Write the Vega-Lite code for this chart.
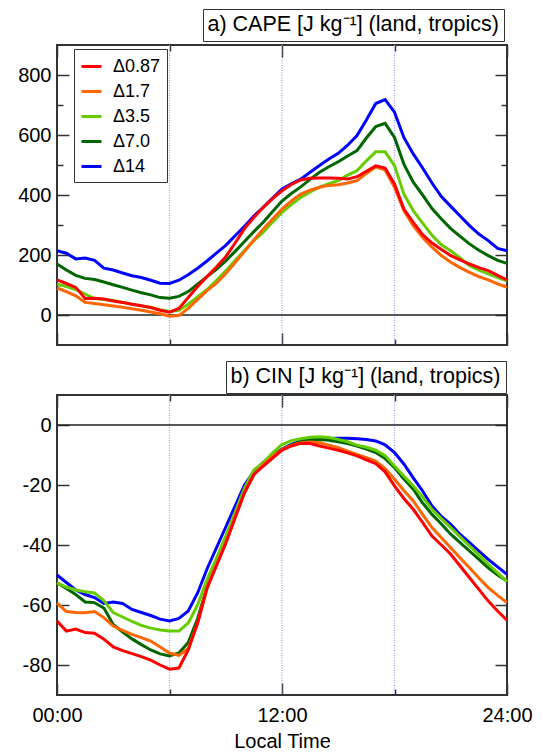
{
  "$schema": "https://vega.github.io/schema/vega-lite/v6.json",
  "padding": {"left": 16, "top": 7, "right": 35, "bottom": 0},
  "bounds": "flush",
  "spacing": 50,
  "datasets": {
    "vt": [{"h": 6}, {"h": 12}, {"h": 18}],
    "zero": [{"v": 0}],
    "d": [
      {"h":0,"s":"Δ14","cape":214,"cin":-50},{"h":0.5,"s":"Δ14","cape":206,"cin":-52.5},{"h":1,"s":"Δ14","cape":187,"cin":-55},{"h":1.5,"s":"Δ14","cape":190,"cin":-56.5},{"h":2,"s":"Δ14","cape":182,"cin":-57.5},{"h":2.5,"s":"Δ14","cape":156,"cin":-59.5},{"h":3,"s":"Δ14","cape":150,"cin":-59},{"h":3.5,"s":"Δ14","cape":140,"cin":-59.5},{"h":4,"s":"Δ14","cape":131,"cin":-61.5},{"h":4.5,"s":"Δ14","cape":125,"cin":-62.5},{"h":5,"s":"Δ14","cape":116,"cin":-63.5},{"h":5.5,"s":"Δ14","cape":106,"cin":-64.7},{"h":6,"s":"Δ14","cape":105,"cin":-65.3},{"h":6.5,"s":"Δ14","cape":116,"cin":-64.5},{"h":7,"s":"Δ14","cape":134,"cin":-62},{"h":7.5,"s":"Δ14","cape":156,"cin":-56},{"h":8,"s":"Δ14","cape":180,"cin":-48},{"h":8.5,"s":"Δ14","cape":206,"cin":-41},{"h":9,"s":"Δ14","cape":232,"cin":-34},{"h":9.5,"s":"Δ14","cape":264,"cin":-27},{"h":10,"s":"Δ14","cape":296,"cin":-20},{"h":10.5,"s":"Δ14","cape":330,"cin":-15.5},{"h":11,"s":"Δ14","cape":359,"cin":-12.5},{"h":11.5,"s":"Δ14","cape":390,"cin":-10},{"h":12,"s":"Δ14","cape":420,"cin":-8},{"h":12.5,"s":"Δ14","cape":437,"cin":-6.5},{"h":13,"s":"Δ14","cape":453,"cin":-5.3},{"h":13.5,"s":"Δ14","cape":476,"cin":-5},{"h":14,"s":"Δ14","cape":498,"cin":-4.8},{"h":14.5,"s":"Δ14","cape":520,"cin":-4.5},{"h":15,"s":"Δ14","cape":539,"cin":-4.4},{"h":15.5,"s":"Δ14","cape":566,"cin":-4.4},{"h":16,"s":"Δ14","cape":598,"cin":-4.6},{"h":16.5,"s":"Δ14","cape":650,"cin":-4.8},{"h":17,"s":"Δ14","cape":705,"cin":-5.3},{"h":17.5,"s":"Δ14","cape":718,"cin":-6.6},{"h":18,"s":"Δ14","cape":676,"cin":-9.2},{"h":18.5,"s":"Δ14","cape":592,"cin":-13},{"h":19,"s":"Δ14","cape":537,"cin":-17.6},{"h":19.5,"s":"Δ14","cape":490,"cin":-22},{"h":20,"s":"Δ14","cape":440,"cin":-27},{"h":20.5,"s":"Δ14","cape":395,"cin":-30.5},{"h":21,"s":"Δ14","cape":362,"cin":-33.1},{"h":21.5,"s":"Δ14","cape":330,"cin":-36.5},{"h":22,"s":"Δ14","cape":298,"cin":-39.2},{"h":22.5,"s":"Δ14","cape":270,"cin":-42},{"h":23,"s":"Δ14","cape":248,"cin":-44.8},{"h":23.5,"s":"Δ14","cape":222,"cin":-47.3},{"h":24,"s":"Δ14","cape":214,"cin":-49.8},
      {"h":0,"s":"Δ7.0","cape":170,"cin":-52.6},{"h":0.5,"s":"Δ7.0","cape":150,"cin":-54.5},{"h":1,"s":"Δ7.0","cape":132,"cin":-56.5},{"h":1.5,"s":"Δ7.0","cape":122,"cin":-59},{"h":2,"s":"Δ7.0","cape":118,"cin":-59.2},{"h":2.5,"s":"Δ7.0","cape":110,"cin":-61},{"h":3,"s":"Δ7.0","cape":101,"cin":-66.5},{"h":3.5,"s":"Δ7.0","cape":92,"cin":-69},{"h":4,"s":"Δ7.0","cape":83,"cin":-71.3},{"h":4.5,"s":"Δ7.0","cape":74,"cin":-73.2},{"h":5,"s":"Δ7.0","cape":67,"cin":-75},{"h":5.5,"s":"Δ7.0","cape":58,"cin":-76.3},{"h":6,"s":"Δ7.0","cape":56,"cin":-77},{"h":6.5,"s":"Δ7.0","cape":62,"cin":-76},{"h":7,"s":"Δ7.0","cape":78,"cin":-72.5},{"h":7.5,"s":"Δ7.0","cape":103,"cin":-64.5},{"h":8,"s":"Δ7.0","cape":128,"cin":-54},{"h":8.5,"s":"Δ7.0","cape":152,"cin":-45},{"h":9,"s":"Δ7.0","cape":180,"cin":-37.5},{"h":9.5,"s":"Δ7.0","cape":212,"cin":-30},{"h":10,"s":"Δ7.0","cape":245,"cin":-22.5},{"h":10.5,"s":"Δ7.0","cape":278,"cin":-16.5},{"h":11,"s":"Δ7.0","cape":309,"cin":-12.8},{"h":11.5,"s":"Δ7.0","cape":345,"cin":-10.3},{"h":12,"s":"Δ7.0","cape":380,"cin":-8.2},{"h":12.5,"s":"Δ7.0","cape":405,"cin":-6.6},{"h":13,"s":"Δ7.0","cape":427,"cin":-5.6},{"h":13.5,"s":"Δ7.0","cape":452,"cin":-5},{"h":14,"s":"Δ7.0","cape":476,"cin":-4.8},{"h":14.5,"s":"Δ7.0","cape":494,"cin":-5.1},{"h":15,"s":"Δ7.0","cape":511,"cin":-5.6},{"h":15.5,"s":"Δ7.0","cape":530,"cin":-6.2},{"h":16,"s":"Δ7.0","cape":548,"cin":-7},{"h":16.5,"s":"Δ7.0","cape":590,"cin":-8},{"h":17,"s":"Δ7.0","cape":628,"cin":-9.2},{"h":17.5,"s":"Δ7.0","cape":639,"cin":-11.2},{"h":18,"s":"Δ7.0","cape":592,"cin":-14.2},{"h":18.5,"s":"Δ7.0","cape":503,"cin":-18},{"h":19,"s":"Δ7.0","cape":443,"cin":-21.4},{"h":19.5,"s":"Δ7.0","cape":400,"cin":-26},{"h":20,"s":"Δ7.0","cape":355,"cin":-29.8},{"h":20.5,"s":"Δ7.0","cape":320,"cin":-33},{"h":21,"s":"Δ7.0","cape":288,"cin":-36.4},{"h":21.5,"s":"Δ7.0","cape":262,"cin":-39.2},{"h":22,"s":"Δ7.0","cape":237,"cin":-42},{"h":22.5,"s":"Δ7.0","cape":216,"cin":-44.8},{"h":23,"s":"Δ7.0","cape":198,"cin":-47.6},{"h":23.5,"s":"Δ7.0","cape":182,"cin":-50},{"h":24,"s":"Δ7.0","cape":172,"cin":-52},
      {"h":0,"s":"Δ3.5","cape":103,"cin":-52.6},{"h":0.5,"s":"Δ3.5","cape":95,"cin":-54},{"h":1,"s":"Δ3.5","cape":85,"cin":-55},{"h":1.5,"s":"Δ3.5","cape":70,"cin":-55.6},{"h":2,"s":"Δ3.5","cape":55,"cin":-56},{"h":2.5,"s":"Δ3.5","cape":52,"cin":-58.5},{"h":3,"s":"Δ3.5","cape":48,"cin":-62.5},{"h":3.5,"s":"Δ3.5","cape":42,"cin":-64},{"h":4,"s":"Δ3.5","cape":36,"cin":-65.5},{"h":4.5,"s":"Δ3.5","cape":31,"cin":-66.8},{"h":5,"s":"Δ3.5","cape":25,"cin":-67.7},{"h":5.5,"s":"Δ3.5","cape":18,"cin":-68.3},{"h":6,"s":"Δ3.5","cape":12,"cin":-68.7},{"h":6.5,"s":"Δ3.5","cape":16,"cin":-68.7},{"h":7,"s":"Δ3.5","cape":36,"cin":-66},{"h":7.5,"s":"Δ3.5","cape":60,"cin":-60},{"h":8,"s":"Δ3.5","cape":85,"cin":-51.5},{"h":8.5,"s":"Δ3.5","cape":115,"cin":-44.5},{"h":9,"s":"Δ3.5","cape":147,"cin":-37},{"h":9.5,"s":"Δ3.5","cape":182,"cin":-29},{"h":10,"s":"Δ3.5","cape":215,"cin":-21},{"h":10.5,"s":"Δ3.5","cape":248,"cin":-15},{"h":11,"s":"Δ3.5","cape":276,"cin":-12.6},{"h":11.5,"s":"Δ3.5","cape":310,"cin":-9.3},{"h":12,"s":"Δ3.5","cape":342,"cin":-6.5},{"h":12.5,"s":"Δ3.5","cape":368,"cin":-5.2},{"h":13,"s":"Δ3.5","cape":392,"cin":-4.6},{"h":13.5,"s":"Δ3.5","cape":410,"cin":-4.1},{"h":14,"s":"Δ3.5","cape":426,"cin":-3.9},{"h":14.5,"s":"Δ3.5","cape":438,"cin":-4.2},{"h":15,"s":"Δ3.5","cape":448,"cin":-4.8},{"h":15.5,"s":"Δ3.5","cape":466,"cin":-5.6},{"h":16,"s":"Δ3.5","cape":481,"cin":-6.7},{"h":16.5,"s":"Δ3.5","cape":514,"cin":-7.4},{"h":17,"s":"Δ3.5","cape":544,"cin":-8.4},{"h":17.5,"s":"Δ3.5","cape":544,"cin":-10.2},{"h":18,"s":"Δ3.5","cape":498,"cin":-13.7},{"h":18.5,"s":"Δ3.5","cape":403,"cin":-17},{"h":19,"s":"Δ3.5","cape":348,"cin":-20.3},{"h":19.5,"s":"Δ3.5","cape":306,"cin":-24},{"h":20,"s":"Δ3.5","cape":266,"cin":-28.1},{"h":20.5,"s":"Δ3.5","cape":234,"cin":-31.2},{"h":21,"s":"Δ3.5","cape":214,"cin":-34.2},{"h":21.5,"s":"Δ3.5","cape":190,"cin":-37.3},{"h":22,"s":"Δ3.5","cape":164,"cin":-40.3},{"h":22.5,"s":"Δ3.5","cape":150,"cin":-43.3},{"h":23,"s":"Δ3.5","cape":137,"cin":-46.4},{"h":23.5,"s":"Δ3.5","cape":125,"cin":-49.3},{"h":24,"s":"Δ3.5","cape":114,"cin":-52.2},
      {"h":0,"s":"Δ1.7","cape":90,"cin":-59.4},{"h":0.5,"s":"Δ1.7","cape":78,"cin":-62.2},{"h":1,"s":"Δ1.7","cape":64,"cin":-62.5},{"h":1.5,"s":"Δ1.7","cape":42,"cin":-62.6},{"h":2,"s":"Δ1.7","cape":38,"cin":-62.2},{"h":2.5,"s":"Δ1.7","cape":34,"cin":-64.2},{"h":3,"s":"Δ1.7","cape":30,"cin":-67},{"h":3.5,"s":"Δ1.7","cape":26,"cin":-68.5},{"h":4,"s":"Δ1.7","cape":21,"cin":-69.8},{"h":4.5,"s":"Δ1.7","cape":16,"cin":-70.9},{"h":5,"s":"Δ1.7","cape":10,"cin":-72},{"h":5.5,"s":"Δ1.7","cape":4,"cin":-74},{"h":6,"s":"Δ1.7","cape":-4,"cin":-76},{"h":6.5,"s":"Δ1.7","cape":-2,"cin":-76.8},{"h":7,"s":"Δ1.7","cape":22,"cin":-74.5},{"h":7.5,"s":"Δ1.7","cape":52,"cin":-66},{"h":8,"s":"Δ1.7","cape":81,"cin":-54},{"h":8.5,"s":"Δ1.7","cape":106,"cin":-46.5},{"h":9,"s":"Δ1.7","cape":138,"cin":-39},{"h":9.5,"s":"Δ1.7","cape":175,"cin":-30.5},{"h":10,"s":"Δ1.7","cape":212,"cin":-22.5},{"h":10.5,"s":"Δ1.7","cape":250,"cin":-16.5},{"h":11,"s":"Δ1.7","cape":287,"cin":-13.2},{"h":11.5,"s":"Δ1.7","cape":320,"cin":-10.5},{"h":12,"s":"Δ1.7","cape":353,"cin":-8.2},{"h":12.5,"s":"Δ1.7","cape":380,"cin":-6.8},{"h":13,"s":"Δ1.7","cape":403,"cin":-5.9},{"h":13.5,"s":"Δ1.7","cape":416,"cin":-5.7},{"h":14,"s":"Δ1.7","cape":426,"cin":-5.9},{"h":14.5,"s":"Δ1.7","cape":432,"cin":-6.7},{"h":15,"s":"Δ1.7","cape":434,"cin":-7.6},{"h":15.5,"s":"Δ1.7","cape":440,"cin":-8.7},{"h":16,"s":"Δ1.7","cape":448,"cin":-9.8},{"h":16.5,"s":"Δ1.7","cape":472,"cin":-10.9},{"h":17,"s":"Δ1.7","cape":494,"cin":-12},{"h":17.5,"s":"Δ1.7","cape":483,"cin":-14.5},{"h":18,"s":"Δ1.7","cape":426,"cin":-18.1},{"h":18.5,"s":"Δ1.7","cape":348,"cin":-21.8},{"h":19,"s":"Δ1.7","cape":298,"cin":-25.3},{"h":19.5,"s":"Δ1.7","cape":258,"cin":-29.8},{"h":20,"s":"Δ1.7","cape":226,"cin":-34.2},{"h":20.5,"s":"Δ1.7","cape":198,"cin":-37.6},{"h":21,"s":"Δ1.7","cape":176,"cin":-40.9},{"h":21.5,"s":"Δ1.7","cape":158,"cin":-44.3},{"h":22,"s":"Δ1.7","cape":142,"cin":-47.6},{"h":22.5,"s":"Δ1.7","cape":128,"cin":-51},{"h":23,"s":"Δ1.7","cape":117,"cin":-54.2},{"h":23.5,"s":"Δ1.7","cape":104,"cin":-56.8},{"h":24,"s":"Δ1.7","cape":92,"cin":-59.2},
      {"h":0,"s":"Δ0.87","cape":117,"cin":-65.3},{"h":0.5,"s":"Δ0.87","cape":105,"cin":-68.7},{"h":1,"s":"Δ0.87","cape":92,"cin":-68},{"h":1.5,"s":"Δ0.87","cape":55,"cin":-69.2},{"h":2,"s":"Δ0.87","cape":56,"cin":-69.4},{"h":2.5,"s":"Δ0.87","cape":53,"cin":-71.4},{"h":3,"s":"Δ0.87","cape":47,"cin":-74},{"h":3.5,"s":"Δ0.87","cape":42,"cin":-75.2},{"h":4,"s":"Δ0.87","cape":36,"cin":-76.2},{"h":4.5,"s":"Δ0.87","cape":31,"cin":-77.2},{"h":5,"s":"Δ0.87","cape":25,"cin":-78.4},{"h":5.5,"s":"Δ0.87","cape":16,"cin":-80},{"h":6,"s":"Δ0.87","cape":9,"cin":-81.4},{"h":6.5,"s":"Δ0.87","cape":22,"cin":-81},{"h":7,"s":"Δ0.87","cape":58,"cin":-75},{"h":7.5,"s":"Δ0.87","cape":95,"cin":-66},{"h":8,"s":"Δ0.87","cape":128,"cin":-54.5},{"h":8.5,"s":"Δ0.87","cape":160,"cin":-47},{"h":9,"s":"Δ0.87","cape":194,"cin":-39.5},{"h":9.5,"s":"Δ0.87","cape":240,"cin":-31},{"h":10,"s":"Δ0.87","cape":288,"cin":-22.5},{"h":10.5,"s":"Δ0.87","cape":325,"cin":-16.5},{"h":11,"s":"Δ0.87","cape":359,"cin":-13.7},{"h":11.5,"s":"Δ0.87","cape":388,"cin":-11},{"h":12,"s":"Δ0.87","cape":414,"cin":-8.4},{"h":12.5,"s":"Δ0.87","cape":435,"cin":-7},{"h":13,"s":"Δ0.87","cape":450,"cin":-6.1},{"h":13.5,"s":"Δ0.87","cape":456,"cin":-6.2},{"h":14,"s":"Δ0.87","cape":457,"cin":-7},{"h":14.5,"s":"Δ0.87","cape":457,"cin":-7.7},{"h":15,"s":"Δ0.87","cape":456,"cin":-8.4},{"h":15.5,"s":"Δ0.87","cape":453,"cin":-9.3},{"h":16,"s":"Δ0.87","cape":461,"cin":-10.3},{"h":16.5,"s":"Δ0.87","cape":479,"cin":-11.6},{"h":17,"s":"Δ0.87","cape":497,"cin":-12.9},{"h":17.5,"s":"Δ0.87","cape":490,"cin":-15.6},{"h":18,"s":"Δ0.87","cape":437,"cin":-20.3},{"h":18.5,"s":"Δ0.87","cape":353,"cin":-24.5},{"h":19,"s":"Δ0.87","cape":309,"cin":-28.1},{"h":19.5,"s":"Δ0.87","cape":268,"cin":-32.5},{"h":20,"s":"Δ0.87","cape":240,"cin":-37},{"h":20.5,"s":"Δ0.87","cape":218,"cin":-40},{"h":21,"s":"Δ0.87","cape":198,"cin":-43.1},{"h":21.5,"s":"Δ0.87","cape":184,"cin":-47},{"h":22,"s":"Δ0.87","cape":170,"cin":-50.9},{"h":22.5,"s":"Δ0.87","cape":158,"cin":-54.8},{"h":23,"s":"Δ0.87","cape":148,"cin":-58.7},{"h":23.5,"s":"Δ0.87","cape":132,"cin":-62},{"h":24,"s":"Δ0.87","cape":117,"cin":-65.1}
    ]
  },
  "vconcat": [
    {
      "width": 450,
      "height": 300,
      "data": {"name": "d"},
      "layer": [
        {
          "data": {"name": "vt"},
          "mark": {"type": "rule", "color": "#9a9aff", "strokeWidth": 1.2, "strokeDash": [1, 1.5]},
          "encoding": {
            "x": {"field": "h", "type": "quantitative", "scale": {"domain": [0, 24], "nice": false}, "axis": null}
          }
        },
        {
          "data": {"name": "zero"},
          "mark": {"type": "rule", "color": "#222222", "strokeWidth": 1.5},
          "encoding": {
            "y": {"field": "v", "type": "quantitative", "scale": {"domain": [-100, 900], "nice": false, "zero": false}, "axis": null},
            "strokeDash": {
              "datum": "a) CAPE [J kg⁻¹] (land, tropics)", "type": "nominal",
              "legend": {"orient": "none", "legendX": 146, "legendY": -36, "title": null, "strokeColor": "#333333", "fillColor": "#ffffff",
                         "padding": 5, "labelFontSize": 21.5, "labelLimit": 500, "symbolType": "circle", "symbolSize": 0.01, "symbolOpacity": 0, "symbolStrokeWidth": 0,
                         "labelOffset": -22}
            }
          }
        },
        {
          "mark": {"type": "point", "opacity": 0},
          "encoding": {
            "x": {"field": "h", "type": "quantitative", "scale": {"domain": [0, 24], "nice": false},
                  "axis": {"orient": "top", "values": [0, 12, 24], "tickSize": -12, "labels": false, "title": null}},
            "y": {"field": "cape", "type": "quantitative", "scale": {"domain": [-100, 900], "nice": false, "zero": false},
                  "axis": {"orient": "right", "values": [0, 200, 400, 600, 800], "tickSize": -12, "labels": false, "title": null}}
          }
        },
        {
          "mark": {"type": "point", "opacity": 0},
          "encoding": {
            "x": {"field": "h", "type": "quantitative", "scale": {"domain": [0, 24], "nice": false},
                  "axis": {"orient": "top", "values": [6, 18], "tickSize": -6, "labels": false, "title": null}},
            "y": {"field": "cape", "type": "quantitative", "scale": {"domain": [-100, 900], "nice": false, "zero": false},
                  "axis": {"orient": "right", "values": [100, 300, 500, 700], "tickSize": -6, "labels": false, "title": null}}
          }
        },
        {
          "mark": {"type": "point", "opacity": 0},
          "encoding": {
            "x": {"field": "h", "type": "quantitative", "scale": {"domain": [0, 24], "nice": false},
                  "axis": {"orient": "bottom", "values": [6, 18], "tickSize": -6, "labels": false, "title": null}},
            "y": {"field": "cape", "type": "quantitative", "scale": {"domain": [-100, 900], "nice": false, "zero": false},
                  "axis": {"orient": "left", "values": [100, 300, 500, 700], "tickSize": -6, "labels": false, "title": null}}
          }
        },
        {
          "mark": {"type": "line", "strokeWidth": 3},
          "encoding": {
            "x": {"field": "h", "type": "quantitative", "scale": {"domain": [0, 24], "nice": false},
                  "axis": {"orient": "bottom", "values": [0, 12, 24], "tickSize": -12, "labels": false, "title": null}},
            "y": {"field": "cape", "type": "quantitative", "scale": {"domain": [-100, 900], "nice": false, "zero": false},
                  "axis": {"orient": "left", "values": [0, 200, 400, 600, 800], "tickSize": -12, "labelPadding": 18, "title": null}},
            "color": {
              "field": "s", "type": "nominal",
              "scale": {"domain": ["Δ0.87", "Δ1.7", "Δ3.5", "Δ7.0", "Δ14"], "range": ["#ff0000", "#ff6600", "#66cc00", "#006600", "#0000ff"]},
              "legend": {"orient": "none", "legendX": 17, "legendY": 4, "title": null, "strokeColor": "#333333", "fillColor": "#ffffff",
                         "padding": 6, "labelFontSize": 18, "symbolType": "stroke", "symbolSize": 400, "symbolStrokeWidth": 3,
                         "labelOffset": 10, "rowPadding": 4}
            }
          }
        }
      ],
      "resolve": {"axis": {"x": "independent", "y": "independent"}}
    },
    {
      "width": 450,
      "height": 300,
      "data": {"name": "d"},
      "layer": [
        {
          "data": {"name": "vt"},
          "mark": {"type": "rule", "color": "#9a9aff", "strokeWidth": 1.2, "strokeDash": [1, 1.5]},
          "encoding": {
            "x": {"field": "h", "type": "quantitative", "scale": {"domain": [0, 24], "nice": false}, "axis": null}
          }
        },
        {
          "data": {"name": "zero"},
          "mark": {"type": "rule", "color": "#222222", "strokeWidth": 1.5},
          "encoding": {
            "y": {"field": "v", "type": "quantitative", "scale": {"domain": [-90, 10], "nice": false, "zero": false}, "axis": null},
            "strokeDash": {
              "datum": "b) CIN [J kg⁻¹] (land, tropics)", "type": "nominal",
              "legend": {"orient": "none", "legendX": 169, "legendY": -34, "title": null, "strokeColor": "#333333", "fillColor": "#ffffff",
                         "padding": 5, "labelFontSize": 21.5, "labelLimit": 500, "symbolType": "circle", "symbolSize": 0.01, "symbolOpacity": 0, "symbolStrokeWidth": 0,
                         "labelOffset": -22}
            }
          }
        },
        {
          "mark": {"type": "point", "opacity": 0},
          "encoding": {
            "x": {"field": "h", "type": "quantitative", "scale": {"domain": [0, 24], "nice": false},
                  "axis": {"orient": "top", "values": [0, 12, 24], "tickSize": -12, "labels": false, "title": null}},
            "y": {"field": "cin", "type": "quantitative", "scale": {"domain": [-90, 10], "nice": false, "zero": false},
                  "axis": {"orient": "right", "values": [-80, -60, -40, -20, 0], "tickSize": -12, "labels": false, "title": null}}
          }
        },
        {
          "mark": {"type": "point", "opacity": 0},
          "encoding": {
            "x": {"field": "h", "type": "quantitative", "scale": {"domain": [0, 24], "nice": false},
                  "axis": {"orient": "top", "values": [6, 18], "tickSize": -6, "labels": false, "title": null}},
            "y": {"field": "cin", "type": "quantitative", "scale": {"domain": [-90, 10], "nice": false, "zero": false}, "axis": null}
          }
        },
        {
          "mark": {"type": "point", "opacity": 0},
          "encoding": {
            "x": {"field": "h", "type": "quantitative", "scale": {"domain": [0, 24], "nice": false},
                  "axis": {"orient": "bottom", "values": [6, 18], "tickSize": -6, "labels": false, "title": null}},
            "y": {"field": "cin", "type": "quantitative", "scale": {"domain": [-90, 10], "nice": false, "zero": false}, "axis": null}
          }
        },
        {
          "mark": {"type": "line", "strokeWidth": 3},
          "encoding": {
            "x": {"field": "h", "type": "quantitative", "scale": {"domain": [0, 24], "nice": false},
                  "axis": {"orient": "bottom", "values": [0, 12, 24], "tickSize": -12, "labelPadding": 22, "labelFlush": false,
                           "labelExpr": "datum.value == 0 ? '00:00' : datum.value + ':00'", "title": "Local Time", "titlePadding": 6}},
            "y": {"field": "cin", "type": "quantitative", "scale": {"domain": [-90, 10], "nice": false, "zero": false},
                  "axis": {"orient": "left", "values": [-80, -60, -40, -20, 0], "tickSize": -12, "labelPadding": 18, "labelExpr": "'' + datum.value", "title": null}},
            "color": {
              "field": "s", "type": "nominal",
              "scale": {"domain": ["Δ0.87", "Δ1.7", "Δ3.5", "Δ7.0", "Δ14"], "range": ["#ff0000", "#ff6600", "#66cc00", "#006600", "#0000ff"]},
              "legend": null
            }
          }
        }
      ],
      "resolve": {"axis": {"x": "independent", "y": "independent"}}
    }
  ],
  "resolve": {
    "scale": {"color": "independent", "strokeDash": "independent"},
    "legend": {"color": "independent", "strokeDash": "independent"}
  },
  "config": {
    "font": "Liberation Sans",
    "view": {"stroke": "#333333", "strokeWidth": 2},
    "axis": {"grid": false, "domain": false, "tickColor": "#333333", "tickWidth": 1.5, "labelFontSize": 20, "labelColor": "#000000",
             "titleFontSize": 20, "titleFontWeight": "normal", "titleColor": "#000000", "labelFlush": false},
    "legend": {"labelColor": "#000000"}
  }
}
